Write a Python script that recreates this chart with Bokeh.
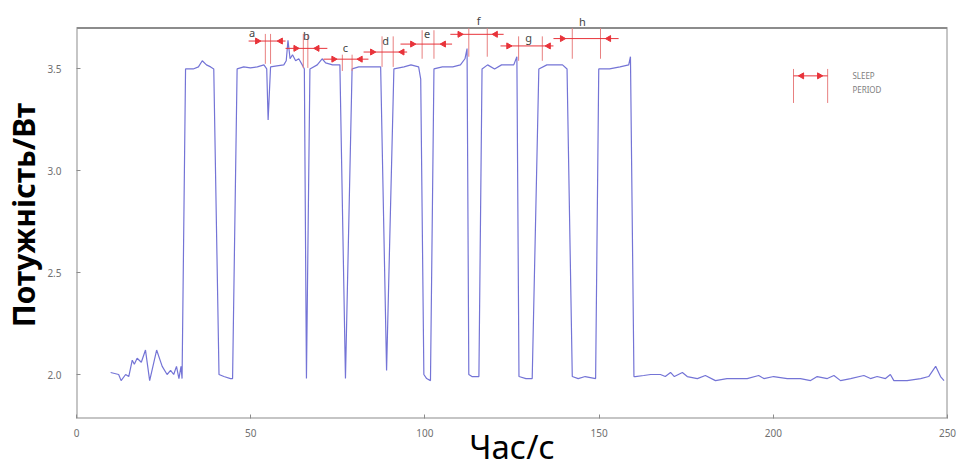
from bokeh.plotting import figure
from bokeh.models import Range1d, Label, LabelSet, ColumnDataSource, FixedTicker, CustomJSTickFormatter
from bokeh.core.properties import value
from bokeh.embed import file_html
from bokeh.resources import INLINE
import math

# ---- measured power trace ----
time_s = [9.8, 12.1, 12.8, 14.1, 15.0, 16.0, 16.6, 17.4, 18.6, 19.8, 21.0, 23.0, 24.6, 26.0, 27.0, 27.9, 28.7, 29.4, 30.0, 30.3,
          31.3, 33.5, 35.0, 36.1, 37.3, 38.5, 39.4,
          40.9, 42.3, 44.2, 44.8,
          46.1, 48.0, 49.9, 51.9, 53.8, 54.6, 55.0, 55.7, 57.5, 59.5, 60.2, 60.7, 61.3, 62.0, 62.9, 63.8, 64.8, 65.4,
          66.0,
          67.0, 69.1, 70.5, 71.5, 73.5, 75.6,
          77.2,
          79.1, 81.0, 84.0, 87.3,
          89.0,
          91.1, 94.0, 96.0, 98.2, 98.8,
          99.7, 100.5, 101.6,
          102.6, 105.0, 108.0, 110.2, 111.5, 112.1,
          112.6, 113.5, 115.5,
          116.4, 118.0, 120.0, 122.0, 125.5, 126.4,
          127.0, 129.0, 130.8,
          132.7, 135.0, 137.0, 139.5, 140.8,
          142.3, 144.0, 146.0, 149.0,
          149.9, 153.0, 156.0, 158.5, 159.0,
          160.0, 160.4, 162.8, 164.8, 167.6, 169.0, 170.5, 171.6, 173.9, 175.3, 178.2, 180.5, 183.4, 186.7,
          192.5, 195.8, 197.3, 200.1, 204.0, 207.8, 210.7, 212.6, 215.5, 217.4, 219.3, 222.2, 226.0, 227.9,
          229.8, 232.2, 233.6, 234.6, 238.4, 242.3, 244.6, 246.6, 248.0, 249.0]
power_w = [2.01, 2.00, 1.97, 2.00, 1.99, 2.07, 2.05, 2.08, 2.06, 2.12, 1.97, 2.12, 2.04, 2.00, 2.02, 2.00, 2.04, 1.98, 2.04, 1.98,
           3.50, 3.50, 3.51, 3.54, 3.52, 3.51, 3.50,
           2.00, 1.99, 1.98, 1.98,
           3.50, 3.51, 3.505, 3.51, 3.52, 3.50, 3.25, 3.51, 3.515, 3.52, 3.54, 3.64, 3.55, 3.57, 3.54, 3.55, 3.52, 3.50,
           1.98,
           3.50, 3.52, 3.55, 3.53, 3.52, 3.52,
           1.98,
           3.50, 3.51, 3.51, 3.51,
           2.02,
           3.50, 3.51, 3.52, 3.51, 3.45,
           2.00, 1.98, 1.97,
           3.50, 3.51, 3.51, 3.52, 3.55, 3.60,
           2.00, 1.99, 1.99,
           3.50, 3.52, 3.50, 3.52, 3.52, 3.56,
           1.99, 1.98, 1.98,
           3.50, 3.52, 3.52, 3.52, 3.50,
           1.99, 1.98, 1.99, 1.98,
           3.50, 3.50, 3.51, 3.52, 3.56,
           1.99, 1.99, 1.995, 2.00, 2.00, 1.99, 2.01, 1.99, 2.01, 1.99, 1.98, 1.995, 1.97, 1.98,
           1.98, 1.995, 1.98, 1.99, 1.98, 1.98, 1.97, 1.99, 1.98, 1.995, 1.97, 1.98, 1.995, 1.98,
           1.99, 1.98, 2.00, 1.97, 1.97, 1.98, 1.99, 2.04, 1.99, 1.97]

# ---- sleep-period annotations ----
period_labels = ["a", "b", "c", "d", "e", "f", "g", "h"]
sleep_start = [54.2, 65.1, 76.3, 87.7, 99.2, 112.6, 126.9, 142.3]
sleep_end = [55.7, 66.4, 79.1, 90.9, 102.6, 117.9, 133.7, 150.4]
arrow_y = [3.637, 3.601, 3.548, 3.583, 3.622, 3.670, 3.613, 3.649]
arrow_left = [49.4, 60.0, 70.9, 82.4, 93.0, 107.3, 121.7, 136.9]
arrow_right = [60.0, 72.0, 83.8, 94.9, 107.8, 122.6, 136.9, 155.6]
head_left = [51.9, 62.9, 73.8, 84.9, 96.4, 110.0, 124.0, 139.4]
head_right = [58.6, 69.1, 81.5, 93.5, 105.4, 120.3, 135.5, 152.8]
vline_top = [3.672, 3.672, 3.57, 3.66, 3.69, 3.70, 3.66, 3.70]
vline_bottom = [3.525, 3.505, 3.49, 3.51, 3.55, 3.56, 3.54, 3.55]
label_x = [50.4, 66.0, 77.2, 88.7, 100.6, 115.4, 129.8, 145.2]
label_y = [3.68, 3.662, 3.604, 3.642, 3.672, 3.74, 3.653, 3.735]

# legend sample
legend_x = [205.8, 215.6]
legend_head_x = [208.2, 213.2]
legend_y = 3.466
legend_vtop = 3.50
legend_vbottom = 3.333
legend_text_x = 222.7
legend_text = ["SLEEP", "PERIOD"]
legend_text_y = [3.466, 3.40]

x_ticks = [0, 50, 100, 150, 200, 250]
y_ticks = [2.0, 2.5, 3.0, 3.5]
x_lim = (0, 250)
y_lim = (1.784, 3.701)      # plotted box
y_view_top = 3.782          # room above the box for labels f and h

RED = "#e8333a"
VRED = "#e88080"
GREY = "#8c8c8c"
SANS = value("Noto Sans")

p = figure(width=963, height=472, output_backend="svg", toolbar_location=None,
           x_range=Range1d(*x_lim), y_range=Range1d(y_lim[0], y_view_top),
           min_border_left=76, min_border_right=16, min_border_top=11, min_border_bottom=54,
           x_axis_label="Час/с", y_axis_label="Потужність/Вт")
p.background_fill_color = "white"
p.border_fill_color = "white"
p.outline_line_color = None
p.grid.visible = False

for ax in (p.xaxis[0], p.yaxis[0]):
    ax.axis_line_color = None
    ax.major_tick_in = 4
    ax.major_tick_out = 0
    ax.minor_tick_in = 0
    ax.minor_tick_out = 0
    ax.major_tick_line_color = GREY
    ax.major_label_text_color = "#707070"
    ax.major_label_text_font = "Noto Sans"
    ax.major_label_text_font_size = "10px"
    ax.axis_label_text_font = "Noto Sans"
    ax.axis_label_text_color = "black"

p.xaxis.ticker = FixedTicker(ticks=x_ticks, minor_ticks=[])
p.yaxis.ticker = FixedTicker(ticks=y_ticks, minor_ticks=[])
p.yaxis.formatter = CustomJSTickFormatter(code="return tick.toFixed(1);")
p.xaxis.major_label_standoff = 10
p.yaxis.major_label_standoff = 15
p.xaxis.axis_label_text_font_size = "33px"
p.xaxis.axis_label_text_font_style = "normal"
p.xaxis.axis_label_standoff = -16
p.yaxis.axis_label_text_font_size = "30px"
p.yaxis.axis_label_text_font_style = "bold"
p.yaxis.axis_label_standoff = 0

# plot box (MATLAB-style frame)
p.line([x_lim[0], x_lim[1], x_lim[1], x_lim[0], x_lim[0]],
       [y_lim[0], y_lim[0], y_lim[1], y_lim[1], y_lim[0]],
       line_color=GREY, line_width=2)

# trace
p.line(time_s, power_w, line_color="#7474d6", line_width=1.2)

# annotations: vertical boundary lines
p.segment(x0=sleep_start, y0=vline_bottom, x1=sleep_start, y1=vline_top, line_color=VRED, line_width=1)
p.segment(x0=sleep_end, y0=vline_bottom, x1=sleep_end, y1=vline_top, line_color=VRED, line_width=1)
# horizontal arrow lines
p.segment(x0=arrow_left, y0=arrow_y, x1=arrow_right, y1=arrow_y, line_color=RED, line_width=1)
# arrowheads pointing in toward the sleep period
p.scatter(head_left, arrow_y, marker="triangle", size=6, angle=-math.pi / 2,
          fill_color=RED, line_color=RED)
p.scatter(head_right, arrow_y, marker="triangle", size=6, angle=math.pi / 2,
          fill_color=RED, line_color=RED)

lab_src = ColumnDataSource(dict(x=label_x, y=label_y, t=period_labels))
p.add_layout(LabelSet(x="x", y="y", text="t", source=lab_src, text_font_size="11px",
                      text_color="#444444", text_align="center", text_baseline="middle",
                      text_font=SANS))

# legend sample
p.segment(x0=legend_x, y0=[legend_vbottom] * 2, x1=legend_x, y1=[legend_vtop] * 2,
          line_color=VRED, line_width=1)
p.segment(x0=[legend_x[0]], y0=[legend_y], x1=[legend_x[1]], y1=[legend_y], line_color=RED, line_width=1)
p.scatter([legend_head_x[0]], [legend_y], marker="triangle", size=6, angle=math.pi / 2,
          fill_color=RED, line_color=RED)
p.scatter([legend_head_x[1]], [legend_y], marker="triangle", size=6, angle=-math.pi / 2,
          fill_color=RED, line_color=RED)
for txt, ty in zip(legend_text, legend_text_y):
    p.add_layout(Label(x=legend_text_x, y=ty, text=txt, text_font_size="8px", text_color="#808080",
                       text_baseline="middle", text_font="Noto Sans"))

open("out.html", "w").write(file_html(p, INLINE))
